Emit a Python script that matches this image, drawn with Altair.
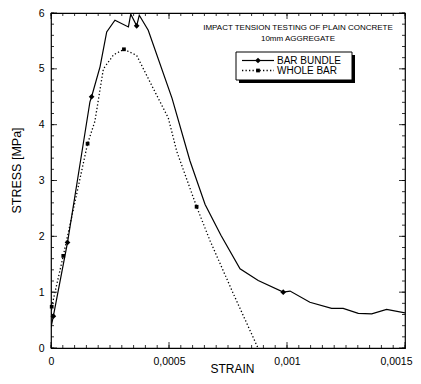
import altair as alt
import pandas as pd

# ---- data ----
bb_strain = [0.0, 0.00001, 0.00007, 0.000165, 0.000172, 0.000208, 0.000236, 0.000271,
             0.000328, 0.000338, 0.000363, 0.000374, 0.000412, 0.000513, 0.000589,
             0.000653, 0.000720, 0.000801, 0.000878, 0.000984, 0.001013, 0.001097,
             0.001189, 0.001238, 0.001302, 0.001359, 0.001422, 0.0015]
bb_stress = [0.37, 0.57, 1.89, 4.41, 4.50, 5.04, 5.66, 5.87,
             5.75, 5.98, 5.77, 5.96, 5.69, 4.47, 3.35,
             2.57, 2.02, 1.42, 1.21, 1.00, 1.02, 0.82,
             0.71, 0.71, 0.62, 0.61, 0.69, 0.63]
bb_marker_idx = [1, 2, 4, 10, 19]

wb_strain = [0.0, 0.000003, 0.000052, 0.000155, 0.000186, 0.000222, 0.000265, 0.000309,
             0.000363, 0.000433, 0.000497, 0.000533, 0.000617, 0.000674, 0.000775, 0.000877]
wb_stress = [0.55, 0.74, 1.65, 3.66, 4.06, 5.00, 5.25, 5.35,
             5.24, 4.65, 4.12, 3.52, 2.53, 1.92, 0.95, 0.0]
wb_marker_idx = [1, 2, 3, 7, 12]

x_major = [0, 0.0005, 0.001, 0.0015]
x_minor = [i * 0.00005 for i in range(31)]
y_major = [0, 1, 2, 3, 4, 5, 6]
y_minor = [i * 0.2 for i in range(31)]

title_lines = ["IMPACT TENSION TESTING OF PLAIN CONCRETE", "10mm AGGREGATE"]
series_names = ["BAR BUNDLE", "WHOLE BAR"]

W, H = 354, 335
FONT = "Liberation Sans"

df_bb = pd.DataFrame({"strain": bb_strain, "stress": bb_stress})
df_wb = pd.DataFrame({"strain": wb_strain, "stress": wb_stress})
df_bbm = df_bb.iloc[bb_marker_idx]
df_wbm = df_wb.iloc[wb_marker_idx]

xs = alt.Scale(domain=[0, 0.0015], nice=False, zero=False)
ys = alt.Scale(domain=[0, 6], nice=False, zero=False)

x_axis = alt.Axis(values=x_major, labelExpr="replace(format(datum.value, '~g'), '.', ',')",
                  ticks=False, domain=False, grid=False, labelPadding=8, labelFontSize=10.5,
                  labelFont=FONT, labelColor="black", labelFlush=False,
                  labelAlign=alt.condition("datum.value >= 0.0015", alt.value("right"),
                                           alt.value("center")),
                  labelOffset=alt.condition("datum.value >= 0.0015", alt.value(7),
                                            alt.value(0)),
                  title="STRAIN", titleFont=FONT, titleFontSize=12, titleFontWeight="normal",
                  titleColor="black", titleX=181, titleY=20, titleAlign="center",
                  titleBaseline="middle")
y_axis = alt.Axis(values=y_major, ticks=False, domain=False, grid=False, labelPadding=7,
                  labelFontSize=10.5, labelFont=FONT, labelColor="black", labelFlush=False,
                  title="STRESS [MPa]", titleFont=FONT, titleFontSize=12.5,
                  titleFontWeight="normal", titleColor="black", titleX=-35, titleY=157,
                  titleAlign="center", titleBaseline="middle", titleAngle=-90)

X = alt.X("strain:Q", scale=xs, axis=x_axis)
Y = alt.Y("stress:Q", scale=ys, axis=y_axis)

line_bb = alt.Chart(df_bb).mark_line(color="black", strokeWidth=1.2, clip=True).encode(x=X, y=Y)
line_wb = alt.Chart(df_wb).mark_line(color="black", strokeWidth=1.3, strokeDash=[1.3, 2.2],
                                      clip=True).encode(x=X, y=Y)
pts_bb = alt.Chart(df_bbm).mark_point(shape="diamond", filled=True, color="black", size=32,
                                      opacity=1).encode(x=X, y=Y)
pts_wb = alt.Chart(df_wbm).mark_point(shape="square", filled=True, color="black", size=14,
                                      opacity=1).encode(x=X, y=Y)

# inward ticks (drawn from the tick arrays through the same scales)
def xticks(vals, length):
    d = pd.DataFrame({"strain": vals})
    bottom = alt.Chart(d).mark_rule(color="black", strokeWidth=0.8).encode(
        x=X, y=alt.value(H), y2=alt.value(H - length))
    top = alt.Chart(d).mark_rule(color="black", strokeWidth=0.8).encode(
        x=X, y=alt.value(0), y2=alt.value(length))
    return [bottom, top]

def yticks(vals, length):
    d = pd.DataFrame({"stress": vals})
    left = alt.Chart(d).mark_rule(color="black", strokeWidth=0.8).encode(
        y=Y, x=alt.value(0), x2=alt.value(length))
    right = alt.Chart(d).mark_rule(color="black", strokeWidth=0.8).encode(
        y=Y, x=alt.value(W), x2=alt.value(W - length))
    return [left, right]

ticks = xticks(x_minor, 3) + xticks(x_major, 6) + yticks(y_minor, 3) + yticks(y_major, 6)

one = pd.DataFrame({"k": [0]})

# in-plot title
t1 = alt.Chart(one).mark_text(font=FONT, fontSize=8, color="black", align="center",
                              baseline="middle").encode(
    x=alt.value(247), y=alt.value(15), text=alt.value(title_lines[0]))
t2 = alt.Chart(one).mark_text(font=FONT, fontSize=8, color="black", align="center",
                              baseline="middle").encode(
    x=alt.value(247), y=alt.value(26), text=alt.value(title_lines[1]))

# legend box with drop shadow
LX1, LX2, LY1, LY2 = 185, 301, 39, 67
R1, R2 = 47.5, 57.5
shadow = alt.Chart(one).mark_rect(color="black").encode(
    x=alt.value(LX1 + 3), x2=alt.value(LX2 + 3), y=alt.value(LY1 + 3), y2=alt.value(LY2 + 3))
box = alt.Chart(one).mark_rect(fill="white", stroke="black", strokeWidth=1).encode(
    x=alt.value(LX1), x2=alt.value(LX2), y=alt.value(LY1), y2=alt.value(LY2))
leg_l1 = alt.Chart(one).mark_rule(color="black", strokeWidth=1.2).encode(
    x=alt.value(191), x2=alt.value(223), y=alt.value(R1))
leg_l2 = alt.Chart(one).mark_rule(color="black", strokeWidth=1.3, strokeDash=[1.3, 2.2]).encode(
    x=alt.value(191), x2=alt.value(223), y=alt.value(R2))
leg_p1 = alt.Chart(one).mark_point(shape="diamond", filled=True, color="black", size=32,
                                   opacity=1).encode(x=alt.value(207), y=alt.value(R1))
leg_p2 = alt.Chart(one).mark_point(shape="square", filled=True, color="black", size=14,
                                   opacity=1).encode(x=alt.value(207), y=alt.value(R2))
leg_t1 = alt.Chart(one).mark_text(font=FONT, fontSize=10, color="black", align="left",
                                  baseline="middle").encode(
    x=alt.value(226), y=alt.value(R1), text=alt.value(series_names[0]))
leg_t2 = alt.Chart(one).mark_text(font=FONT, fontSize=10, color="black", align="left",
                                  baseline="middle").encode(
    x=alt.value(226), y=alt.value(R2), text=alt.value(series_names[1]))

chart = alt.layer(
    line_bb, line_wb, pts_bb, pts_wb, *ticks, t1, t2,
    shadow, box, leg_l1, leg_l2, leg_p1, leg_p2, leg_t1, leg_t2,
).properties(
    width=W, height=H,
    autosize=alt.AutoSizeParams(type="none"),
    padding={"left": 43, "top": 5, "right": 8, "bottom": 26},
    background="white",
).configure_view(stroke="black", strokeWidth=1.2)

chart.save("out.html", embed_options={"renderer": "svg", "actions": False})
